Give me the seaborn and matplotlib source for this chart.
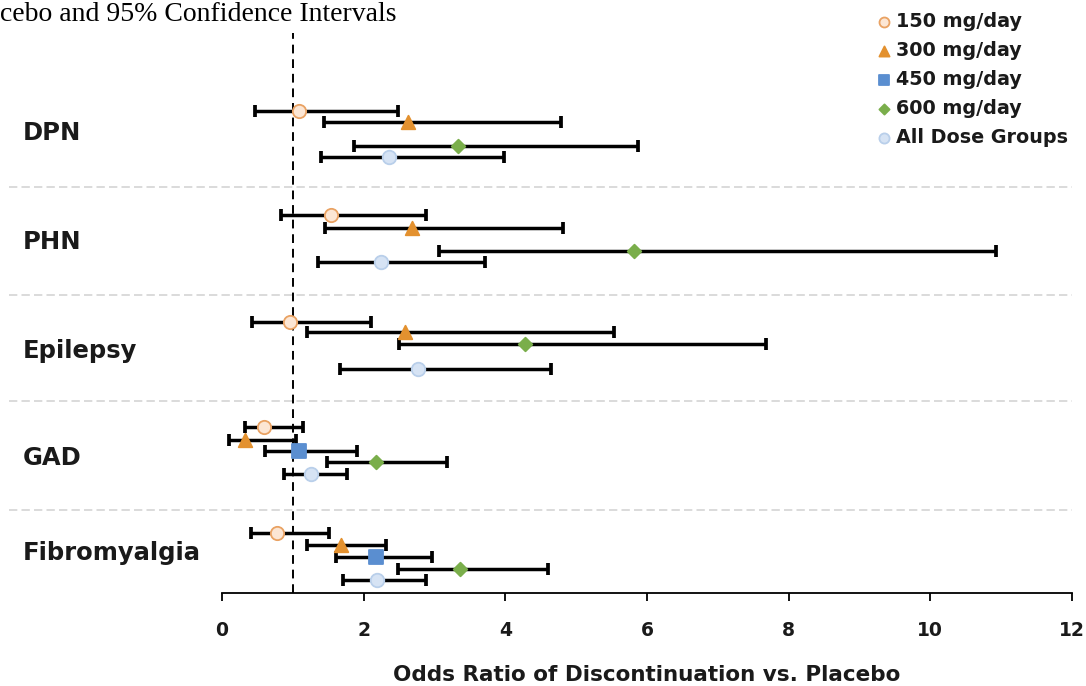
import numpy as np
import pandas as pd
import matplotlib
matplotlib.use("Agg")
import matplotlib.pyplot as plt
import matplotlib.transforms as mtransforms
import seaborn as sns

# ---------------- data ----------------
conditions = ["DPN", "PHN", "Epilepsy", "GAD", "Fibromyalgia"]
doses = ["150 mg/day", "300 mg/day", "450 mg/day", "600 mg/day", "All Dose Groups"]

row_condition = ["DPN"] * 4 + ["PHN"] * 4 + ["Epilepsy"] * 4 + ["GAD"] * 5 + ["Fibromyalgia"] * 5
row_dose = (["150 mg/day", "300 mg/day", "600 mg/day", "All Dose Groups"] * 3
            + ["150 mg/day", "300 mg/day", "450 mg/day", "600 mg/day", "All Dose Groups"] * 2)
# vertical row placement (value axis of the scatter)
row_y = [4.507, 4.399, 4.175, 4.075,
         3.533, 3.414, 3.196, 3.093,
         2.530, 2.436, 2.324, 2.093,
         1.554, 1.430, 1.330, 1.224, 1.115,
         0.564, 0.449, 0.334, 0.224, 0.121]
odds_ratio = [1.08, 2.62, 3.33, 2.36,
              1.54, 2.68, 5.81, 2.24,
              0.96, 2.59, 4.28, 2.77,
              0.59, 0.32, 1.09, 2.17, 1.25,
              0.78, 1.68, 2.17, 3.36, 2.19]
ci_low = [0.46, 1.44, 1.87, 1.40,
          0.83, 1.46, 3.07, 1.36,
          0.43, 1.20, 2.50, 1.67,
          0.33, 0.10, 0.60, 1.48, 0.87,
          0.41, 1.20, 1.61, 2.48, 1.71]
ci_high = [2.48, 4.78, 5.87, 3.98,
           2.88, 4.82, 10.93, 3.71,
           2.10, 5.53, 7.68, 4.64,
           1.15, 1.04, 1.91, 3.18, 1.77,
           1.51, 2.31, 2.97, 4.60, 2.88]
group_separators = [3.794, 2.785, 1.790, 0.780]
label_y = [4.299, 3.280, 2.262, 1.262, 0.374]
x_ticks = [0, 2, 4, 6, 8, 10, 12]

df = pd.DataFrame({"condition": row_condition, "dose": row_dose, "y": row_y,
                   "OR": odds_ratio, "lo": ci_low, "hi": ci_high})

# ---------------- style ----------------
sns.set_theme(style="white")
plt.rcParams["font.family"] = ["DejaVu Sans"]
text_color = "#1a1a1a"

marker_map = {"150 mg/day": "o", "300 mg/day": "^", "450 mg/day": "s",
              "600 mg/day": "D", "All Dose Groups": "o"}
face_map = {"150 mg/day": "#FCE6D4", "300 mg/day": "#E3912F", "450 mg/day": "#5A8ED0",
            "600 mg/day": "#7AAE4B", "All Dose Groups": "#D6E3F4"}
edge_map = {"150 mg/day": "#E9A263", "300 mg/day": "#E3912F", "450 mg/day": "#5A8ED0",
            "600 mg/day": "#7AAE4B", "All Dose Groups": "#B9CFEA"}
size_map = {"150 mg/day": 92, "300 mg/day": 95, "450 mg/day": 90,
            "600 mg/day": 48, "All Dose Groups": 95}

W, H = 1086, 686
fig = plt.figure(figsize=(W / 100, H / 100), dpi=100)
ax = fig.add_axes([222 / W, 93 / H, 850 / W, 560 / H])

# error bars
ax.errorbar(df["OR"], df["y"], xerr=[df["OR"] - df["lo"], df["hi"] - df["OR"]],
            fmt="none", ecolor="black", elinewidth=2.5, capsize=4, capthick=2.7, zorder=2)

# markers via seaborn
for d in doses:
    sub = df[df["dose"] == d]
    sns.scatterplot(data=sub, x="OR", y="y", ax=ax, marker=marker_map[d],
                    color=face_map[d], edgecolor=edge_map[d], linewidth=1.3,
                    s=size_map[d], label=d, zorder=3)

# reference line at OR = 1
ax.axvline(1, color="black", linestyle=(0, (4.5, 3)), linewidth=1.4, zorder=1)

# group separators extending into the label area
trans = mtransforms.blended_transform_factory(fig.transFigure, ax.transData)
for s in group_separators:
    ax.plot([9 / W, 1072 / W], [s, s], transform=trans, color="#D4D4D4",
            linestyle=(0, (5, 2.5)), linewidth=1.2, clip_on=False, zorder=0)

# condition labels
for c, yy in zip(conditions, label_y):
    ax.text(23 / W, yy, c, transform=trans, ha="left", va="center",
            fontsize=17.5, fontweight="bold", color=text_color, family="DejaVu Sans")

ax.set_xlim(0, 12)
ax.set_ylim(0, 5.234)
ax.set_xticks(x_ticks)
ax.set_xticklabels([str(t) for t in x_ticks], fontsize=13.5, fontweight="bold", color=text_color)
ax.set_yticks([])
ax.set_ylabel("")
ax.set_xlabel("Odds Ratio of Discontinuation vs. Placebo", fontsize=15.5, fontweight="bold",
              color=text_color, labelpad=18)
for side in ["left", "right", "top"]:
    ax.spines[side].set_visible(False)
ax.spines["bottom"].set_color("black")
ax.spines["bottom"].set_linewidth(1.3)
ax.tick_params(axis="x", direction="out", length=6, width=1.3, color="black", pad=14, bottom=True)

# legend
leg = ax.legend(loc="upper left", bbox_to_anchor=(874 / W, 1 - 12 / H),
                bbox_transform=fig.transFigure, frameon=False,
                prop=dict(family="DejaVu Sans", weight="bold", size=13.8),
                handletextpad=0.15, labelspacing=0.52, borderpad=0, borderaxespad=0,
                handlelength=1.0, markerscale=0.75)
for t in leg.get_texts():
    t.set_color(text_color)

# title fragment at the top edge
fig.text(0, 1 - 2 / H, "cebo and 95% Confidence Intervals", family="Liberation Serif",
         fontsize=20, ha="left", va="top", color="black")

fig.savefig("out.png", dpi=100)
